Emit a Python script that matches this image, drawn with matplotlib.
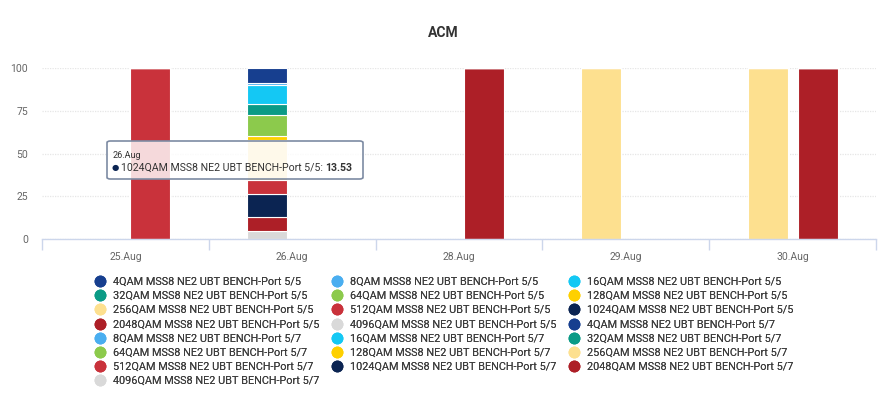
"""Stacked ACM modulation share per day, two stacks (Port 5/5 and Port 5/7)."""

import matplotlib

matplotlib.use("Agg")
import matplotlib.pyplot as plt
from matplotlib.lines import Line2D
from matplotlib.patches import FancyBboxPatch
import numpy as np

plt.rcParams["font.family"] = ["Roboto", "DejaVu Sans"]

categories = ["25.Aug", "26.Aug", "28.Aug", "29.Aug", "30.Aug"]
modulations = ["4QAM", "8QAM", "16QAM", "32QAM", "64QAM", "128QAM",
               "256QAM", "512QAM", "1024QAM", "2048QAM", "4096QAM"]
colors = ["#173f8f", "#4aaef0", "#14c8f4", "#0b9b86", "#8cca4c", "#fed000",
          "#fde08f", "#c9323b", "#0b2452", "#ad1f27", "#d9d9d9"]

# percentage of time per modulation, one row per modulation, one column per day
port_5_5 = [
    [0, 8.8, 0, 0, 0],       # 4QAM
    [0, 1.3, 0, 0, 0],       # 8QAM
    [0, 10.7, 0, 0, 0],      # 16QAM
    [0, 6.5, 0, 0, 0],       # 32QAM
    [0, 12.5, 0, 0, 0],      # 64QAM
    [0, 2.3, 0, 0, 0],       # 128QAM
    [0, 23.4, 0, 100, 100],  # 256QAM
    [0, 8.3, 0, 0, 0],       # 512QAM
    [0, 13.53, 0, 0, 0],     # 1024QAM
    [0, 7.87, 0, 0, 0],      # 2048QAM
    [0, 4.8, 0, 0, 0],       # 4096QAM
]
port_5_7 = [
    [0, 0, 0, 0, 0],         # 4QAM
    [0, 0, 0, 0, 0],         # 8QAM
    [0, 0, 0, 0, 0],         # 16QAM
    [0, 0, 0, 0, 0],         # 32QAM
    [0, 0, 0, 0, 0],         # 64QAM
    [0, 0, 0, 0, 0],         # 128QAM
    [0, 0, 0, 0, 0],         # 256QAM
    [100, 0, 0, 0, 0],       # 512QAM
    [0, 0, 0, 0, 0],         # 1024QAM
    [0, 0, 100, 0, 100],     # 2048QAM
    [0, 0, 0, 0, 0],         # 4096QAM
]
ports = ["Port 5/5", "Port 5/7"]

tooltip_day = "26.Aug"
tooltip_series = "1024QAM MSS8 NE2 UBT BENCH-Port 5/5"
tooltip_value = 13.53


fig = plt.figure(figsize=(8.87, 3.94), dpi=100)
ax = fig.add_axes([42 / 887, 1 - 239 / 394, 834 / 887, 171 / 394])

x = np.arange(len(categories))
width = 0.24
offsets = [-0.15, 0.15]

for port, data, off in zip(ports, [port_5_5, port_5_7], offsets):
    bottom = np.zeros(len(categories))
    # first series sits on top of the stack, so draw from the last one upwards
    for i in range(len(modulations) - 1, -1, -1):
        vals = np.array(data[i], dtype=float)
        ax.bar(x + off, vals, width, bottom=bottom, color=colors[i],
               edgecolor="white", linewidth=0.8, zorder=2)
        bottom += vals

ax.set_xlim(-0.5, len(categories) - 0.5)
ax.set_ylim(0, 100)
ax.set_yticks([0, 25, 50, 75, 100])
ax.set_xticks(x)
ax.set_xticklabels(categories)
ax.set_xticks(np.arange(-0.5, len(categories), 1.0), minor=True)
ax.tick_params(axis="x", which="major", length=0, pad=9, labelsize=7.5, labelcolor="#666666")
ax.tick_params(axis="x", which="minor", length=8, color="#ccd6eb", width=1)
ax.tick_params(axis="y", length=0, pad=10, labelsize=7.5, labelcolor="#666666")
ax.grid(axis="y", color="#e6e6e6", linestyle=(0, (1, 1)), linewidth=0.9, zorder=0)
for side in ["top", "right", "left"]:
    ax.spines[side].set_visible(False)
ax.spines["bottom"].set_color("#ccd6eb")
ax.spines["bottom"].set_linewidth(1)

fig.text(443 / 887, 1 - 33 / 394, "ACM", ha="center", va="center",
         fontsize=10, fontweight="bold", color="#333333")

# tooltip
box = FancyBboxPatch((107 / 887, 1 - 179 / 394), 256 / 887, 38 / 394,
                     boxstyle="round,pad=0,rounding_size=0.004",
                     transform=fig.transFigure, facecolor=(1, 1, 1, 0.82),
                     edgecolor="#7d8ba3", linewidth=1.2, zorder=10)
fig.add_artist(box)
fig.text(113 / 887, 1 - 155 / 394, tooltip_day, fontsize=6.5, color="#333333",
         va="center", zorder=11)
fig.text(112 / 887, 1 - 168 / 394, "\u25cf", fontsize=6, color=colors[8],
         va="center", zorder=11)
t = fig.text(121 / 887, 1 - 168 / 394, tooltip_series + ": ", fontsize=7.6,
             color="#333333", va="center", zorder=11)
fig.canvas.draw()
bb = t.get_window_extent()
fig.text(bb.x1 / 887, 1 - 168 / 394, f"{tooltip_value:.2f}", fontsize=7.6,
         color="#333333", fontweight="bold", va="center", zorder=11)

# legend: items laid out row-major in three columns
handles, labels = [], []
for port in ["5/5", "5/7"]:
    for m, c in zip(modulations, colors):
        handles.append(Line2D([], [], marker="o", linestyle="", markersize=7.5,
                              markerfacecolor=c, markeredgecolor=c))
        labels.append(f"{m} MSS8 NE2 UBT BENCH-Port {port}")

col_x = [96, 333, 570]
for col in range(3):
    idx = list(range(col, len(labels), 3))
    leg = fig.legend([handles[i] for i in idx], [labels[i] for i in idx],
                     loc="upper left", bbox_to_anchor=(col_x[col] / 887, 1 - 277 / 394),
                     frameon=False, fontsize=7.8, handlelength=0.8, handletextpad=0.75,
                     labelspacing=0.38, borderpad=0, borderaxespad=0)
    for txt in leg.get_texts():
        txt.set_color("#3d3d3d")
    fig.add_artist(leg)

fig.savefig("out.png", dpi=100)
